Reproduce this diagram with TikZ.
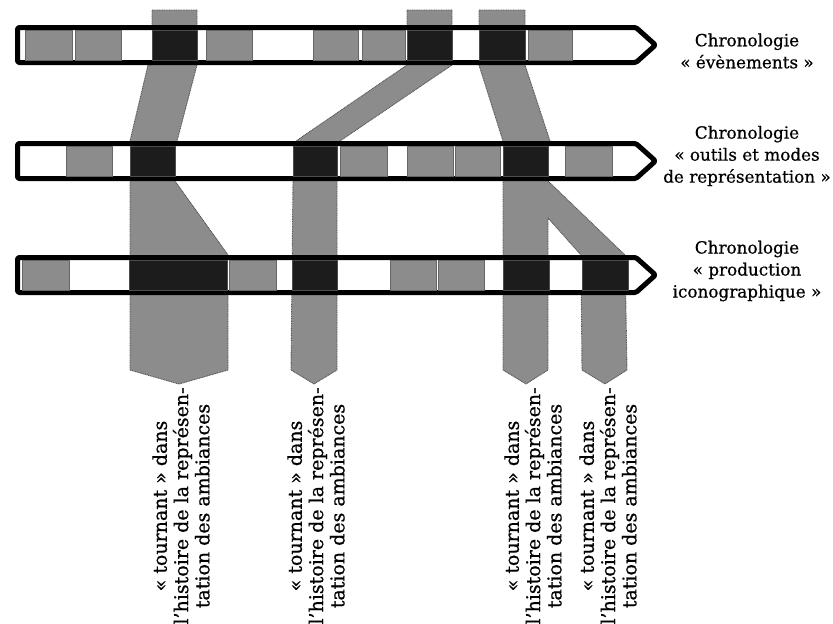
\documentclass[tikz,border=0pt]{standalone}
\usepackage{fontspec}
\setmainfont{DejaVu Serif}[FakeBold=0.7]
\definecolor{boxgray}{RGB}{140,140,140}
\definecolor{boxblack}{RGB}{28,28,28}
\definecolor{edgegray}{RGB}{85,85,85}
\begin{document}
\begin{tikzpicture}[x=1pt,y=-1pt,
  barframe/.style={draw=black, line width=5pt, fill=white, rounded corners=1.5pt, line join=round},
  gbox/.style={fill=boxgray, draw=black!60, line width=0.6pt, inner sep=0pt, anchor=north west, minimum height=30pt},
  kbox/.style={fill=boxblack, draw=black!70, line width=0.6pt, inner sep=0pt, anchor=north west, minimum height=30pt},
  band/.style={fill=boxgray, draw=edgegray, line width=0.9pt, dash pattern=on 1pt off 0.7pt, line join=round},
  chrono/.style={align=center, inner sep=0pt, font=\fontsize{16.8}{22}\selectfont},
  turn/.style={align=center, inner sep=0pt, rotate=90, font=\fontsize{19}{21.3}\selectfont}
]
\useasboundingbox (0,0) rectangle (833,624);

% gray bands
\draw[band] (152,10) -- (197,10) -- (197,65) -- (177,141) -- (175,181) -- (228,255)
  -- (228,370) -- (179,384) -- (130,370) -- (130,141) -- (148,65) -- (152,65) -- cycle;
\draw[band] (407,10) -- (452,10) -- (452,65) -- (340,141) -- (337,181) -- (337,370)
  -- (314,384) -- (291,370) -- (293,181) -- (296,141) -- (407,65) -- cycle;
\draw[band] (479,10) -- (525,10) -- (525,65) -- (550,141) -- (548,181) -- (625,255)
  -- (627,370) -- (605,384) -- (582,370) -- (581,255) -- (548,218) -- (548,370)
  -- (526,384) -- (503,370) -- (503,141) -- (479,65) -- cycle;

% timelines
\draw[barframe] (17.5,27.5) -- (636,27.5) -- (655.5,45) -- (636,62.5) -- (17.5,62.5) -- cycle;
\draw[barframe] (17.5,143.5) -- (636,143.5) -- (655.5,161) -- (636,178.5) -- (17.5,178.5) -- cycle;
\draw[barframe] (17.5,257.5) -- (636,257.5) -- (655.5,275) -- (636,292.5) -- (17.5,292.5) -- cycle;

% boxes, timeline 1
\foreach \nm/\a/\b in {a1/25/72, a2/75/121, a4/206/252, a5/313/358, a6/362/405, a9/528/572}{
  \pgfmathsetmacro\w{\b-\a}
  \node[gbox, minimum width=\w pt] (\nm) at (\a,30) {};}
\foreach \nm/\a/\b in {a3/152/197, a7/407/452, a8/479/525}{
  \pgfmathsetmacro\w{\b-\a}
  \node[kbox, minimum width=\w pt] (\nm) at (\a,30) {};}
% boxes, timeline 2
\foreach \nm/\a/\b in {b1/66/112, b4/340/387, b5/407/453, b6/455/500, b8/565/612}{
  \pgfmathsetmacro\w{\b-\a}
  \node[gbox, minimum width=\w pt] (\nm) at (\a,146) {};}
\foreach \nm/\a/\b in {b2/130/175, b3/293/337, b7/503/548}{
  \pgfmathsetmacro\w{\b-\a}
  \node[kbox, minimum width=\w pt] (\nm) at (\a,146) {};}
% boxes, timeline 3
\foreach \nm/\a/\b in {c1/22/69, c3/229/276, c5/390/436, c6/438/484}{
  \pgfmathsetmacro\w{\b-\a}
  \node[gbox, minimum width=\w pt] (\nm) at (\a,260) {};}
\foreach \nm/\a/\b in {c2/129/227, c4/292/337, c7/503/549, c8/582/628}{
  \pgfmathsetmacro\w{\b-\a}
  \node[kbox, minimum width=\w pt] (\nm) at (\a,260) {};}

% timeline labels
\node[chrono] (l1) at (747,51) {Chronologie\\« évènements »};
\node[chrono] (l2) at (747,156) {Chronologie\\« outils et modes\\de représentation »};
\node[chrono] (l3) at (747,271) {Chronologie\\« production\\iconographique »};

% turning-point labels
\node[turn] (t1) at (181,506) {« tournant » dans\\l’histoire de la représen-\\tation des ambiances};
\node[turn] (t2) at (316,506) {« tournant » dans\\l’histoire de la représen-\\tation des ambiances};
\node[turn] (t3) at (533,506) {« tournant » dans\\l’histoire de la représen-\\tation des ambiances};
\node[turn] (t4) at (608,506) {« tournant » dans\\l’histoire de la représen-\\tation des ambiances};
\end{tikzpicture}
\end{document}
